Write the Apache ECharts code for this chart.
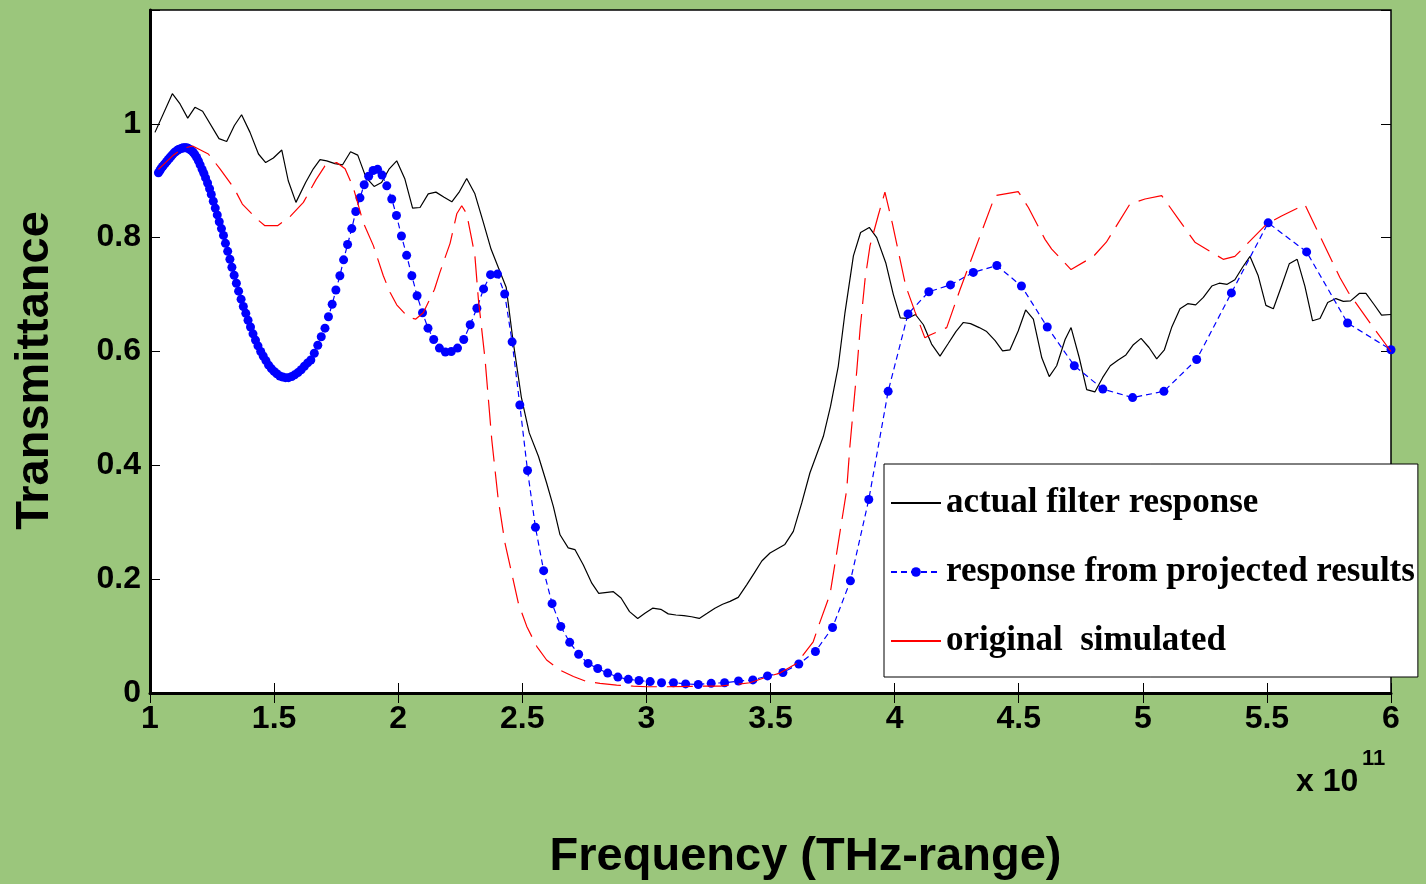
<!DOCTYPE html>
<html>
<head>
<meta charset="utf-8">
<script src="https://cdn.jsdelivr.net/npm/echarts@6/dist/echarts.min.js"></script>
<style>html,body{margin:0;padding:0;background:#9bc67c;}#c{width:1426px;height:884px;}</style>
</head>
<body>
<div id="c"></div>
<script>
// actual filter response: [frequency (x1e11), transmittance]
const actualX = [1.02,1.09,1.121,1.152,1.181,1.212,1.278,1.309,1.34,1.369,1.403,1.437,1.466,1.497,1.531,1.557,1.588,1.627,1.658,1.685,1.712,1.745,1.776,1.808,1.837,1.870,1.903,1.933,1.964,1.994,2.027,2.058,2.088,2.121,2.152,2.185,2.216,2.247,2.276,2.309,2.343,2.374,2.403,2.435,2.462,2.496,2.528,2.565,2.598,2.625,2.652,2.685,2.712,2.746,2.780,2.808,2.867,2.898,2.932,2.965,2.994,3.025,3.058,3.088,3.119,3.151,3.182,3.213,3.245,3.276,3.307,3.337,3.370,3.404,3.435,3.465,3.498,3.558,3.592,3.626,3.659,3.713,3.742,3.773,3.800,3.834,3.863,3.898,3.928,3.965,3.995,4.023,4.052,4.084,4.116,4.149,4.183,4.216,4.247,4.277,4.306,4.341,4.371,4.405,4.435,4.465,4.498,4.528,4.559,4.593,4.623,4.653,4.687,4.711,4.744,4.774,4.807,4.838,4.869,4.901,4.932,4.962,4.993,5.025,5.056,5.087,5.116,5.150,5.181,5.213,5.244,5.278,5.308,5.340,5.371,5.402,5.432,5.465,5.496,5.526,5.559,5.590,5.622,5.653,5.684,5.714,5.745,5.778,5.808,5.837,5.872,5.899,5.931,5.962,6.0];
const actualY = [0.985,1.053,1.035,1.010,1.029,1.022,0.974,0.969,0.997,1.016,0.985,0.947,0.932,0.940,0.954,0.900,0.862,0.897,0.921,0.937,0.935,0.930,0.928,0.951,0.945,0.906,0.890,0.897,0.921,0.935,0.903,0.852,0.853,0.877,0.880,0.871,0.863,0.881,0.904,0.877,0.827,0.780,0.748,0.713,0.621,0.520,0.457,0.416,0.369,0.328,0.278,0.255,0.252,0.225,0.193,0.175,0.178,0.167,0.143,0.131,0.140,0.149,0.147,0.139,0.137,0.136,0.134,0.131,0.140,0.149,0.156,0.161,0.168,0.190,0.211,0.232,0.246,0.261,0.284,0.334,0.387,0.451,0.504,0.574,0.668,0.768,0.809,0.818,0.800,0.755,0.700,0.659,0.658,0.665,0.647,0.613,0.592,0.614,0.635,0.651,0.649,0.642,0.635,0.619,0.601,0.603,0.636,0.673,0.657,0.589,0.556,0.575,0.621,0.642,0.589,0.533,0.529,0.554,0.575,0.585,0.594,0.612,0.623,0.607,0.587,0.603,0.642,0.675,0.684,0.682,0.695,0.715,0.720,0.718,0.726,0.748,0.767,0.733,0.681,0.675,0.715,0.754,0.762,0.715,0.654,0.658,0.686,0.693,0.688,0.689,0.702,0.702,0.683,0.664,0.665];

// response from projected results
const projX = [1.034,1.040,1.045,1.051,1.056,1.062,1.068,1.073,1.079,1.085,1.091,1.097,1.103,1.109,1.115,1.121,1.128,1.134,1.141,1.147,
1.154,1.161,1.167,1.174,1.181,1.188,1.195,1.202,1.210,1.217,1.224,1.232,1.240,1.247,1.255,1.263,1.271,1.279,1.288,1.296,
1.304,1.313,1.322,1.330,1.339,1.348,1.357,1.367,1.376,1.386,1.395,1.405,1.415,1.425,1.435,1.446,1.456,1.467,1.478,1.489,
1.500,1.511,1.523,1.535,1.546,1.558,1.571,1.583,1.596,1.609,1.622,1.635,1.648,1.662,1.676,1.690,1.705,1.719,1.734,1.749,
1.765,1.780,1.796,1.813,1.829,1.846,1.863,1.881,1.899,1.917,1.935,1.954,1.974,1.993,2.013,2.034,2.055,2.076,2.098,2.120,
2.143,2.166,2.190,2.214,2.239,2.264,2.290,2.317,2.344,2.372,2.400,2.429,2.459,2.490,2.521,2.553,2.586,2.620,2.655,2.691,
2.727,2.765,2.804,2.844,2.885,2.927,2.970,3.015,3.061,3.109,3.158,3.209,3.261,3.315,3.371,3.429,3.488,3.550,3.614,3.681,
3.750,3.822,3.896,3.974,4.054,4.138,4.225,4.317,4.412,4.511,4.615,4.724,4.839,4.959,5.085,5.217,5.357,5.505,5.660,5.825,6.000];
const projY = [0.914,0.918,0.922,0.925,0.928,0.931,0.934,0.937,0.940,0.943,0.946,0.949,0.951,0.953,0.955,0.956,0.957,0.958,0.958,0.958,
0.957,0.955,0.953,0.950,0.946,0.941,0.935,0.928,0.920,0.913,0.905,0.896,0.886,0.876,0.864,0.852,0.840,0.828,0.816,0.804,
0.790,0.776,0.762,0.748,0.734,0.720,0.706,0.692,0.679,0.667,0.655,0.643,0.631,0.620,0.610,0.600,0.592,0.584,0.576,0.570,
0.565,0.561,0.557,0.555,0.554,0.554,0.556,0.559,0.563,0.568,0.574,0.580,0.585,0.597,0.611,0.626,0.641,0.661,0.683,0.708,
0.733,0.761,0.788,0.816,0.846,0.870,0.893,0.908,0.918,0.920,0.910,0.891,0.868,0.839,0.803,0.769,0.733,0.698,0.668,0.641,
0.621,0.606,0.599,0.600,0.606,0.621,0.647,0.676,0.710,0.735,0.736,0.701,0.617,0.506,0.391,0.291,0.215,0.157,0.117,0.089,
0.068,0.052,0.043,0.035,0.028,0.024,0.022,0.020,0.018,0.018,0.016,0.015,0.017,0.018,0.021,0.023,0.030,0.036,0.051,0.073,
0.115,0.197,0.340,0.530,0.666,0.705,0.717,0.739,0.751,0.715,0.643,0.575,0.534,0.519,0.530,0.586,0.703,0.826,0.775,0.650,0.603];

// original simulated
const simX = [1.034,1.094,1.134,1.172,1.235,1.282,1.340,1.372,1.430,1.463,1.514,1.564,1.618,1.669,1.705,1.752,1.786,1.819,1.859,1.900,1.940,1.967,1.994,2.041,2.071,2.101,2.146,2.168,2.209,2.236,2.256,2.276,2.296,2.309,2.323,2.350,2.377,2.403,2.430,2.457,2.484,2.518,2.558,2.598,2.652,2.706,2.759,2.813,2.880,2.947,3.001,3.081,3.229,3.297,3.417,3.484,3.538,3.605,3.672,3.693,3.740,3.760,3.807,3.820,3.847,3.861,3.881,3.901,3.934,3.961,3.991,4.045,4.082,4.122,4.143,4.210,4.263,4.357,4.405,4.498,4.539,4.606,4.633,4.711,4.801,4.853,4.948,5.009,5.076,5.143,5.210,5.324,5.371,5.499,5.559,5.653,5.687,5.794,5.828,5.929,6.0];
const simY = [0.920,0.945,0.957,0.961,0.947,0.921,0.886,0.859,0.833,0.821,0.821,0.837,0.862,0.902,0.926,0.932,0.921,0.888,0.827,0.786,0.733,0.704,0.682,0.660,0.657,0.668,0.709,0.739,0.790,0.842,0.856,0.842,0.798,0.768,0.692,0.586,0.445,0.340,0.264,0.211,0.158,0.117,0.082,0.058,0.040,0.029,0.020,0.017,0.014,0.012,0.011,0.011,0.012,0.012,0.018,0.028,0.035,0.052,0.090,0.117,0.174,0.228,0.357,0.434,0.563,0.639,0.727,0.786,0.839,0.880,0.825,0.715,0.670,0.624,0.629,0.642,0.708,0.818,0.874,0.881,0.853,0.797,0.780,0.744,0.767,0.792,0.859,0.868,0.874,0.833,0.792,0.762,0.767,0.824,0.838,0.858,0.827,0.730,0.704,0.642,0.600];

const seriesNames = ['actual filter response', 'response from projected results', 'original  simulated'];
const xTitle = 'Frequency (THz-range)';
const yTitle = 'Transmittance';

const zip = (xs, ys) => xs.map((x, i) => [x, ys[i]]);

const chart = echarts.init(document.getElementById('c'), null, {renderer: 'canvas'});
const labelFont = {fontFamily: 'Liberation Sans, Arial, sans-serif', fontWeight: 'bold', fontSize: 32, color: '#000'};
chart.setOption({
  animation: false,
  backgroundColor: '#9bc67c',
  grid: {left: 150, right: 35, top: 10, bottom: 191, outerBoundsMode: 'none', containLabel: false,
         show: true, backgroundColor: '#ffffff', borderColor: '#000', borderWidth: 1.5},
  xAxis: [{
    type: 'value', min: 1, max: 6, interval: 0.5,
    name: xTitle, nameLocation: 'middle', nameGap: 141,
    nameTextStyle: {fontFamily: 'Liberation Sans, Arial, sans-serif', fontWeight: 'bold', fontSize: 47, color: '#000', padding: [0, 0, 0, 70]},
    axisLine: {show: true, lineStyle: {color: '#000', width: 3}},
    axisTick: {show: true, inside: true, length: 10, lineStyle: {color: '#000', width: 1}},
    axisLabel: Object.assign({margin: 10}, labelFont),
    splitLine: {show: false}
  }, {
    type: 'value', min: 1, max: 6, interval: 0.5, position: 'top',
    axisLine: {show: false},
    axisTick: {show: true, inside: true, length: 10, lineStyle: {color: '#000', width: 1}},
    axisLabel: {show: false}, splitLine: {show: false}
  }],
  yAxis: [{
    type: 'value', min: 0, max: 1.2, interval: 0.2,
    name: yTitle, nameLocation: 'middle', nameGap: 91,
    nameTextStyle: {fontFamily: 'Liberation Sans, Arial, sans-serif', fontWeight: 'bold', fontSize: 47, color: '#000', padding: [0, 38, 0, 0]},
    axisLine: {show: true, lineStyle: {color: '#000', width: 3}},
    axisTick: {show: true, inside: true, length: 10, lineStyle: {color: '#000', width: 1}},
    axisLabel: Object.assign({margin: 9, formatter: v => (v > 1.1 ? '' : String(+v.toFixed(1)))}, labelFont),
    splitLine: {show: false}
  }, {
    type: 'value', min: 0, max: 1.2, interval: 0.2, position: 'right',
    axisLine: {show: false},
    axisTick: {show: true, inside: true, length: 10, lineStyle: {color: '#000', width: 1}},
    axisLabel: {show: false}, splitLine: {show: false}
  }],
  legend: {
    orient: 'vertical', left: 884, top: 464,
    padding: [19, 3, 16, 6], itemGap: 29, itemWidth: 50, itemHeight: 12,
    backgroundColor: '#ffffff', borderColor: '#000', borderWidth: 1, borderRadius: 0,
    textStyle: {fontFamily: 'Liberation Serif, Times New Roman, serif', fontWeight: 'bold', fontSize: 35, color: '#000', lineHeight: 40},
    data: [
      {name: seriesNames[0], itemStyle: {opacity: 0}},
      {name: seriesNames[1]},
      {name: seriesNames[2], itemStyle: {opacity: 0}, lineStyle: {type: 'solid'}}
    ]
  },
  graphic: [
    {type: 'text', left: 1296, top: 766, style: {text: 'x 10', font: 'bold 32px "Liberation Sans", Arial, sans-serif', fill: '#000'}},
    {type: 'text', left: 1362, top: 748, style: {text: '11', font: 'bold 22px "Liberation Sans", Arial, sans-serif', fill: '#000'}}
  ],
  series: [
    {
      name: seriesNames[0], type: 'line', data: zip(actualX, actualY),
      symbol: 'none', lineStyle: {color: '#000', width: 1.2}, itemStyle: {color: '#000'}, z: 3
    },
    {
      name: seriesNames[1], type: 'line', data: zip(projX, projY),
      symbol: 'circle', symbolSize: 9, showSymbol: true,
      lineStyle: {color: '#0000ff', width: 1.2, type: [6, 4]}, itemStyle: {color: '#0000ff'}, z: 4
    },
    {
      name: seriesNames[2], type: 'line', data: zip(simX, simY),
      symbol: 'none', lineStyle: {color: '#ff0000', width: 1.2, type: [26, 10]}, itemStyle: {color: '#ff0000'}, z: 5
    }
  ]
});
</script>
</body>
</html>
